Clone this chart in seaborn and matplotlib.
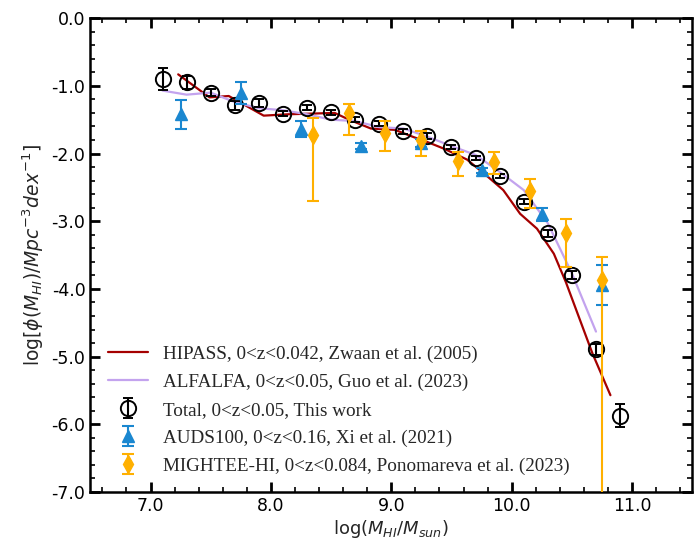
import numpy as np
import pandas as pd
import matplotlib
matplotlib.use("Agg")
import matplotlib.pyplot as plt
import seaborn as sns
from matplotlib.ticker import MultipleLocator, FormatStrFormatter

# ---------------- data ----------------
hipass_x = [7.23, 7.49, 7.65, 7.94, 8.14, 8.53, 8.65, 8.83, 9.03, 9.19, 9.30, 9.44,
            9.63, 9.80, 9.93, 10.07, 10.21, 10.35, 10.45, 10.67, 10.82]
hipass_y = [-0.83, -1.17, -1.15, -1.44, -1.42, -1.40, -1.50, -1.63, -1.65, -1.76, -1.83, -1.93,
            -2.09, -2.34, -2.54, -2.89, -3.11, -3.48, -3.90, -4.95, -5.57]

alfalfa_x = [7.1, 7.3, 7.5, 7.7, 7.9, 8.1, 8.3, 8.5, 8.7, 8.9, 9.1, 9.3, 9.5, 9.7,
             9.9, 10.1, 10.3, 10.5, 10.7]
alfalfa_y = [-1.07, -1.13, -1.10, -1.24, -1.33, -1.36, -1.42, -1.50, -1.52, -1.61, -1.63,
             -1.75, -1.89, -2.02, -2.27, -2.54, -3.03, -3.77, -4.63]

total_x = [7.1, 7.3, 7.5, 7.7, 7.9, 8.1, 8.3, 8.5, 8.7, 8.9, 9.1, 9.3, 9.5, 9.7,
           9.9, 10.1, 10.3, 10.5, 10.7, 10.9]
total_y = [-0.90, -0.95, -1.10, -1.29, -1.25, -1.41, -1.32, -1.39, -1.50, -1.56, -1.67,
           -1.74, -1.90, -2.06, -2.33, -2.71, -3.18, -3.80, -4.89, -5.87]
total_err = [0.165, 0.09, 0.05, 0.06, 0.06, 0.04, 0.04, 0.04, 0.04, 0.04, 0.04,
             0.04, 0.03, 0.03, 0.03, 0.04, 0.05, 0.06, 0.08, 0.17]

auds_x = [7.25, 7.75, 8.25, 8.75, 9.25, 9.75, 10.25, 10.75]
auds_y = [-1.42, -1.11, -1.64, -1.89, -1.85, -2.25, -2.90, -3.94]
auds_err = [0.21, 0.16, 0.12, 0.05, 0.06, 0.04, 0.095, 0.30]

mightee_x = [8.35, 8.65, 8.95, 9.25, 9.55, 9.85, 10.15, 10.45, 10.75]
mightee_y = [-1.73, -1.40, -1.70, -1.80, -2.11, -2.13, -2.55, -3.17, -3.87]
mightee_err_lo = [0.97, 0.32, 0.26, 0.24, 0.22, 0.17, 0.25, 0.51, 3.30]
mightee_err_hi = [0.25, 0.13, 0.18, 0.14, 0.13, 0.15, 0.17, 0.21, 0.34]

labels = ["HIPASS, 0<z<0.042, Zwaan et al. (2005)",
          "ALFALFA, 0<z<0.05, Guo et al. (2023)",
          "Total, 0<z<0.05, This work",
          "AUDS100, 0<z<0.16, Xi et al. (2021)",
          "MIGHTEE-HI, 0<z<0.084, Ponomareva et al. (2023)"]

# ---------------- plot ----------------
sns.set_theme(style="ticks")
plt.rcParams["font.family"] = ["DejaVu Sans"]
plt.rcParams["axes.unicode_minus"] = False
plt.rcParams["mathtext.fontset"] = "dejavusans"

fig = plt.figure(figsize=(7.0, 5.44), dpi=100)
ax = fig.add_axes([0.129, 0.0956, 0.860, 0.871])

red = "#a50000"
lav = "#c3a3ee"
blue = "#1a87d0"
orange = "#ffb000"

sns.lineplot(x=hipass_x, y=hipass_y, ax=ax, color=red, lw=1.6, sort=False,
             estimator=None, label=labels[0])
sns.lineplot(x=alfalfa_x, y=alfalfa_y, ax=ax, color=lav, lw=1.6, sort=False,
             estimator=None, label=labels[1])

ax.errorbar(total_x, total_y, yerr=total_err, fmt="o", ms=11, mfc="none",
            mec="black", mew=1.4, color="black", ecolor="black", elinewidth=1.5,
            capsize=3.5, capthick=1.5, label=labels[2], zorder=3)
ax.errorbar(auds_x, auds_y, yerr=auds_err, fmt="^", ms=8, color=blue,
            ecolor=blue, elinewidth=1.5, capsize=4, capthick=1.5,
            label=labels[3], zorder=4)
ax.errorbar(mightee_x, mightee_y, yerr=[mightee_err_lo, mightee_err_hi], fmt="d",
            ms=9, color=orange, ecolor=orange, elinewidth=1.5, capsize=4,
            capthick=1.5, label=labels[4], zorder=5)

ax.set_xlim(6.5, 11.5)
ax.set_ylim(-7.0, 0.0)
ax.xaxis.set_major_locator(MultipleLocator(1.0))
ax.xaxis.set_minor_locator(MultipleLocator(0.2))
ax.yaxis.set_major_locator(MultipleLocator(1.0))
ax.yaxis.set_minor_locator(MultipleLocator(0.2))
ax.xaxis.set_major_formatter(FormatStrFormatter("%.1f"))
ax.yaxis.set_major_formatter(FormatStrFormatter("%.1f"))
ax.tick_params(which="both", direction="in", top=True, right=True,
               labelsize=12.5, colors="black")
ax.tick_params(which="major", length=7, width=2)
ax.tick_params(which="minor", length=3.5, width=1.2)
for s in ax.spines.values():
    s.set_linewidth(1.8)
    s.set_color("black")

ax.set_xlabel(r"log($M_{HI}/M_{sun}$)", fontsize=13, labelpad=2)
ax.set_ylabel(r"log[$\phi(M_{HI})/Mpc^{-3}dex^{-1}$]", fontsize=13.5, labelpad=4)

leg = ax.legend(loc="lower left", frameon=False, handlelength=2.1,
                labelspacing=0.55, handletextpad=0.8,
                prop={"family": "Liberation Serif", "size": 13.8})

fig.savefig("out.png", dpi=100)
